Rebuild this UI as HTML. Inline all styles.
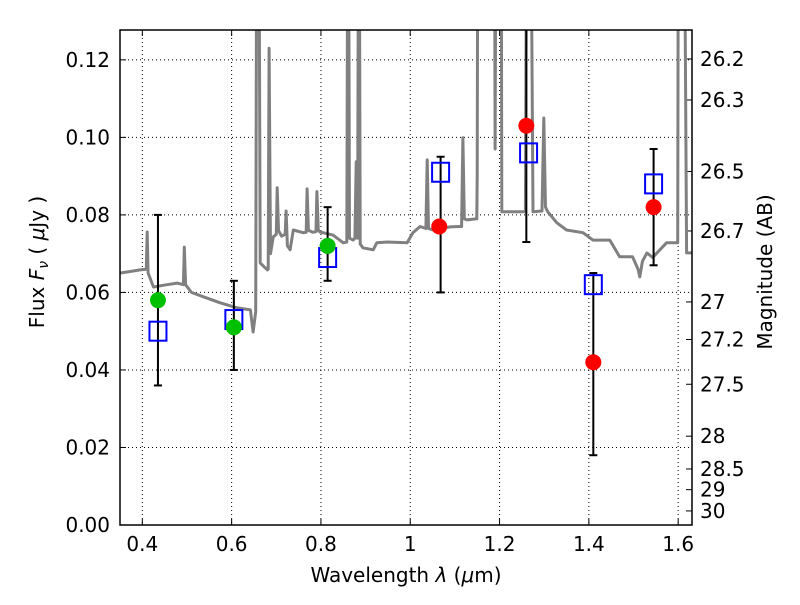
<!DOCTYPE html>
<html><head><meta charset="utf-8"><style>
body{margin:0;background:#fff;}
svg text{font-family:"DejaVu Sans","Liberation Sans",sans-serif;font-size:20px;fill:#000;}
</style></head><body>
<svg id="c" width="800" height="600" xmlns="http://www.w3.org/2000/svg"></svg>
<script>
const xTicks=[0.4,0.6,0.8,1.0,1.2,1.4,1.6];
const xTickLabels=["0.4","0.6","0.8","1","1.2","1.4","1.6"];
const yTicks=[0,0.02,0.04,0.06,0.08,0.10,0.12];
const yTickLabels=["0.00","0.02","0.04","0.06","0.08","0.10","0.12"];
const magTicks=[26.2,26.3,26.5,26.7,27,27.2,27.5,28,28.5,29,30];
const magLabels=["26.2","26.3","26.5","26.7","27","27.2","27.5","28","28.5","29","30"];
const greenX=[0.435,0.605,0.815];
const greenY=[0.058,0.051,0.072];
const redX=[1.065,1.26,1.41,1.545];
const redY=[0.077,0.103,0.042,0.082];
const sqX=[0.435,0.605,0.815,1.068,1.265,1.41,1.545];
const sqY=[0.050,0.053,0.069,0.091,0.096,0.062,0.088];
const errX=[0.435,0.605,0.815,1.068,1.26,1.41,1.545];
const errLo=[0.036,0.040,0.063,0.060,0.073,0.018,0.067];
const errHi=[0.080,0.063,0.082,0.095,0.20,0.065,0.097];
const specX=[0.351,0.395,0.409,0.411,0.413,0.425,0.455,0.478,0.492,0.494,0.497,0.51,0.536,0.575,0.613,0.642,0.648,0.654,0.657,0.66,0.664,0.680,0.682,0.684,0.687,0.693,0.700,0.702,0.705,0.712,0.72,0.722,0.725,0.731,0.738,0.760,0.767,0.769,0.772,0.782,0.789,0.791,0.794,0.798,0.827,0.850,0.858,0.861,0.864,0.872,0.876,0.879,0.882,0.885,0.888,0.894,0.917,0.925,0.948,0.993,1.006,1.022,1.035,1.038,1.041,1.051,1.089,1.111,1.115,1.118,1.121,1.127,1.149,1.150,1.152,1.158,1.165,1.185,1.188,1.190,1.193,1.196,1.203,1.205,1.246,1.258,1.262,1.268,1.275,1.295,1.299,1.303,1.308,1.328,1.35,1.387,1.409,1.447,1.469,1.498,1.51,1.514,1.52,1.530,1.543,1.574,1.599,1.601,1.603,1.612,1.619,1.63];
const specY=[0.065,0.0658,0.066,0.0756,0.065,0.0614,0.062,0.0624,0.062,0.0717,0.062,0.060,0.0589,0.0573,0.056,0.0555,0.0498,0.055,0.2,0.2,0.0676,0.0658,0.066,0.123,0.07,0.0743,0.075,0.087,0.076,0.0745,0.075,0.081,0.072,0.071,0.0761,0.0754,0.0755,0.0867,0.076,0.0755,0.0757,0.086,0.076,0.0756,0.0748,0.0728,0.073,0.2,0.074,0.0735,0.074,0.0937,0.074,0.2,0.0725,0.0715,0.071,0.0728,0.073,0.0728,0.0754,0.077,0.0765,0.0942,0.0765,0.0761,0.0769,0.077,0.077,0.0999,0.079,0.0787,0.079,0.09,0.2,0.2,0.2,0.2,0.2,0.097,0.2,0.2,0.2,0.0808,0.0808,0.0808,0.2,0.2,0.0808,0.081,0.105,0.082,0.0808,0.078,0.0761,0.0754,0.0735,0.0735,0.0692,0.0692,0.066,0.064,0.068,0.0702,0.069,0.0728,0.0728,0.2,0.2,0.2,0.0702,0.0702];
const L=120,R=692,T=30,B=525,X0=0.35,X1=1.631,Y0=0,Y1=0.1277;
const sx=v=>L+(v-X0)/(X1-X0)*(R-L);
const sy=v=>B-(v-Y0)/(Y1-Y0)*(B-T);
const mag2flux=m=>Math.pow(10,(23.9-m)/2.5);
const svg=document.getElementById('c');
const NS='http://www.w3.org/2000/svg';
function mk(t,a,p){const e=document.createElementNS(NS,t);for(const k in a)e.setAttribute(k,a[k]);(p||svg).appendChild(e);return e;}
const defs=mk('defs',{});const cp=mk('clipPath',{id:'clip'},defs);mk('rect',{x:L,y:T,width:R-L,height:B-T},cp);
const grid=mk('g',{});


xTicks.forEach((v,i)=>{
  const x=sx(v);
  mk('line',{x1:x,x2:x,y1:T,y2:B,stroke:'#000','stroke-width':1,'stroke-dasharray':'1,3'},grid);
  mk('line',{x1:x,x2:x,y1:B,y2:B-6,stroke:'#000'},grid);
  mk('line',{x1:x,x2:x,y1:T,y2:T+6,stroke:'#000'},grid);
  const t=mk('text',{x:x,y:B+26,'text-anchor':'middle'});t.textContent=xTickLabels[i];
  
  
});
yTicks.forEach((v,i)=>{
  const y=sy(v);
  mk('line',{x1:L,x2:R,y1:y,y2:y,stroke:'#000','stroke-width':1,'stroke-dasharray':'1,3'},grid);
  mk('line',{x1:L,x2:L+6,y1:y,y2:y,stroke:'#000'},grid);
  const t=mk('text',{x:L-10,y:y+7,'text-anchor':'end'});t.textContent=yTickLabels[i];
  
  
});
magTicks.forEach((m,i)=>{
  const y=sy(mag2flux(m));
  mk('line',{x1:R,x2:R-6,y1:y,y2:y,stroke:'#000'});
  const t=mk('text',{x:R+8,y:y+7,'text-anchor':'start'});t.textContent=magLabels[i];
  
  
});
const g=mk('g',{'clip-path':'url(#clip)'});
let d='';specX.forEach((v,i)=>{d+=(i?'L':'M')+sx(v).toFixed(1)+','+sy(specY[i]).toFixed(1);});
const sp=mk('path',{d:d,fill:'none',stroke:'#808080','stroke-width':3,'stroke-linejoin':'round'},g);


errX.forEach((v,i)=>{
  const x=sx(v),y1=sy(errLo[i]),y2=sy(errHi[i]);
  const e=mk('g',{},g);
  
  
  mk('line',{x1:x,x2:x,y1:y1,y2:y2,stroke:'#000','stroke-width':2},e);
  mk('line',{x1:x-4,x2:x+4,y1:y1,y2:y1,stroke:'#000','stroke-width':2},e);
  mk('line',{x1:x-4,x2:x+4,y1:y2,y2:y2,stroke:'#000','stroke-width':2},e);
});
sqX.forEach((v,i)=>{
  const r=mk('rect',{x:sx(v)-8.5,y:sy(sqY[i])-9.5,width:17,height:19,fill:'none',stroke:'#0000ff','stroke-width':2},g);
  
  
});
greenX.forEach((v,i)=>{
  const c=mk('circle',{cx:sx(v),cy:sy(greenY[i]),r:8,fill:'#00c000'},g);
  
  
});
redX.forEach((v,i)=>{
  const c=mk('circle',{cx:sx(v),cy:sy(redY[i]),r:8,fill:'#ff0000'},g);
  
  
});
const fr=mk('rect',{x:L,y:T,width:R-L,height:B-T,fill:'none',stroke:'#000','stroke-width':1.5});


const xl=mk('text',{x:406,y:582,'text-anchor':'middle'});xl.innerHTML='Wavelength  <tspan font-style="italic">λ</tspan> (<tspan font-style="italic">μ</tspan>m)';


const yl=mk('text',{x:0,y:0,'text-anchor':'middle',transform:'translate(44,262) rotate(-90)'});yl.innerHTML='Flux  <tspan font-style="italic">F</tspan><tspan font-style="italic" font-size="14" dy="4">ν</tspan><tspan dy="-4">  (  <tspan font-style="italic">μ</tspan>Jy )</tspan>';


const rl=mk('text',{x:0,y:0,'text-anchor':'middle',transform:'translate(772,272) rotate(-90)'});rl.textContent='Magnitude (AB)';


</script>
</body></html>
